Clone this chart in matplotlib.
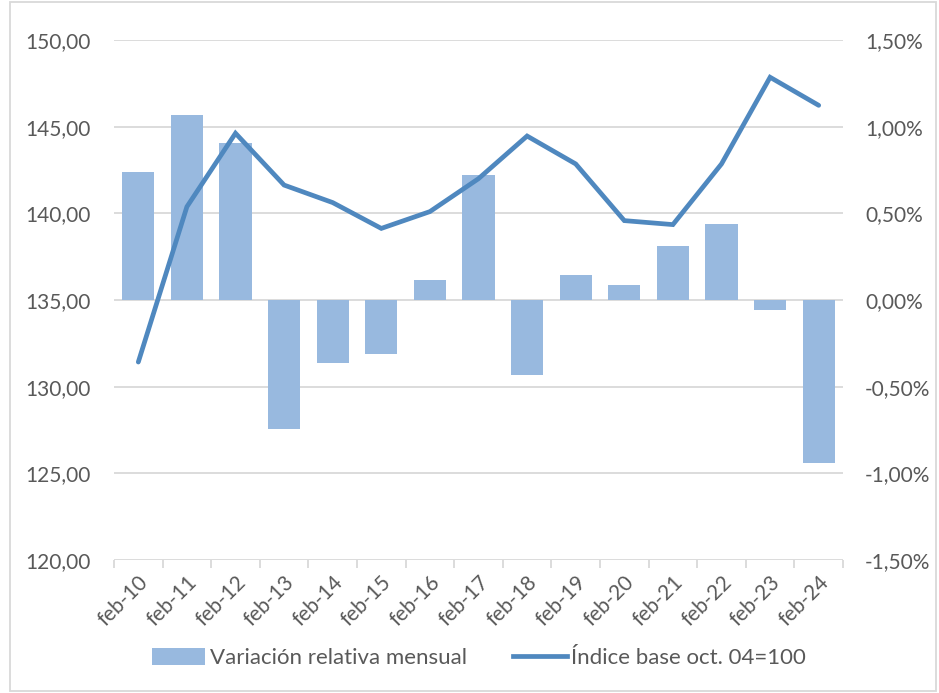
import matplotlib
matplotlib.use("Agg")
import matplotlib.pyplot as plt
import numpy as np
from matplotlib.ticker import FuncFormatter, FixedLocator
from matplotlib.patches import Rectangle, Patch
from matplotlib.lines import Line2D

categories = ["feb-10", "feb-11", "feb-12", "feb-13", "feb-14", "feb-15", "feb-16", "feb-17",
              "feb-18", "feb-19", "feb-20", "feb-21", "feb-22", "feb-23", "feb-24"]
variacion = [0.74, 1.065, 0.904, -0.746, -0.365, -0.313, 0.113, 0.72,
             -0.435, 0.144, 0.085, 0.313, 0.438, -0.058, -0.938]
indice = [131.42, 140.38, 144.62, 141.63, 140.62, 139.13, 140.10, 142.0,
          144.46, 142.85, 139.58, 139.35, 142.85, 147.85, 146.23]

bar_label = "Variación relativa mensual"
line_label = "Índice base oct. 04=100"

plt.rcParams['font.family'] = ['Lato', 'DejaVu Sans']
txt = "#595959"
grid = "#D9D9D9"
bar_color = "#98B9DF"
line_color = "#4F88BF"
fs = 15

fig = plt.figure(figsize=(9.39, 6.93), dpi=100)
ax = fig.add_axes([114/939, 1-560/693, (843-114)/939, (560-40)/693])
ax2 = ax.twinx()

x = np.arange(len(categories))
ax2.bar(x, variacion, width=0.66, color=bar_color, zorder=2, label=bar_label)
ax.set_zorder(ax2.get_zorder() + 1)
ax.patch.set_visible(False)
ax.plot(x, indice, color=line_color, lw=3.4, solid_capstyle="round", solid_joinstyle="miter",
        label=line_label, zorder=3)

ax.set_ylim(120, 150)
ax.set_yticks(np.arange(120, 151, 5))
ax.yaxis.set_major_formatter(FuncFormatter(lambda v, p: f"{v:.2f}".replace(".", ",")))
ax2.set_ylim(-1.5, 1.5)
ax2.set_yticks(np.arange(-1.5, 1.51, 0.5))
ax2.yaxis.set_major_formatter(FuncFormatter(lambda v, p: f"{v:.2f}%".replace(".", ",").replace("-0,00", "0,00")))
ax.set_xlim(-0.5, len(categories) - 0.5)

for v in np.arange(-1.5, 1.51, 0.5):
    ax2.axhline(v, color=grid, lw=1.3, zorder=0)

ax.set_xticks(x)
ax.set_xticklabels(categories, rotation=45, ha="right", rotation_mode="anchor")
ax.tick_params(axis="x", length=0, pad=9, labelsize=fs, labelcolor=txt)
ax.xaxis.set_minor_locator(FixedLocator(np.arange(-0.5, len(categories), 1)))
ax.tick_params(axis="x", which="minor", length=6, color=grid, width=1.3)
ax.tick_params(axis="y", length=0, pad=17, labelsize=fs, labelcolor=txt)
ax2.tick_params(axis="y", length=0, pad=16, labelsize=fs, labelcolor=txt)

for a in (ax, ax2):
    for s in a.spines.values():
        s.set_visible(False)

handles = [Patch(facecolor=bar_color, label=bar_label),
           Line2D([0], [0], color=line_color, lw=3.4, label=line_label)]
fig.legend(handles=handles, loc="center", bbox_to_anchor=(0.51, 1-658/693), ncol=2, frameon=False,
           fontsize=16, labelcolor=txt, handlelength=2.4, handleheight=0.8, handletextpad=0.2,
           columnspacing=2.1)

fig.patches.append(Rectangle((10/939, 0.003), (936-10)/939, 0.994, transform=fig.transFigure,
                             fill=False, edgecolor=grid, lw=1.3))

fig.savefig("out.png", dpi=100)
